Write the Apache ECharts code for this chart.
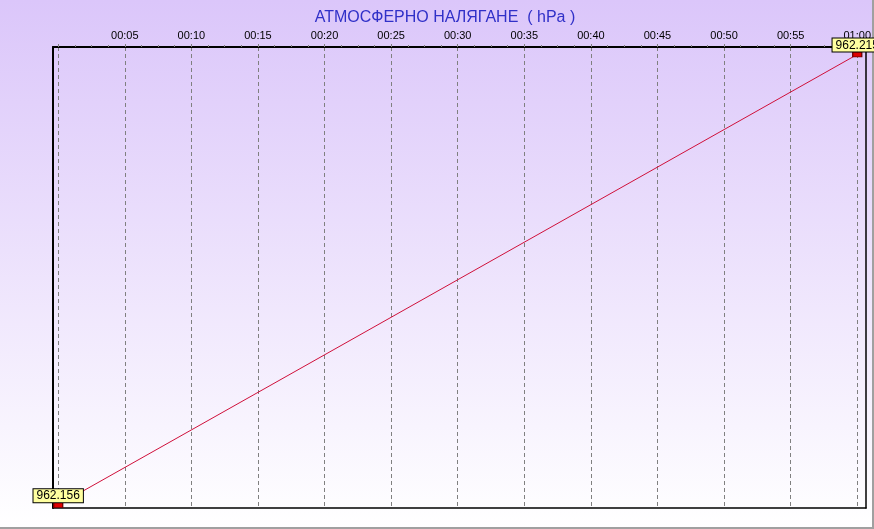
<!DOCTYPE html>
<html>
<head>
<meta charset="utf-8">
<script src="https://cdn.jsdelivr.net/npm/echarts@6/dist/echarts.min.js"></script>
<style>
html,body{margin:0;padding:0;background:#fff;}
#chart{width:874px;height:529px;}
</style>
</head>
<body>
<div id="chart"></div>
<script>
const titleText = 'АТМОСФЕРНО НАЛЯГАНЕ  ( hPa )';
const minutes = [0, 60];
const pressure = [962.156, 962.215];
const tickLabels = ['00:00','00:05','00:10','00:15','00:20','00:25','00:30','00:35','00:40','00:45','00:50','00:55','01:00'];

const chart = echarts.init(document.getElementById('chart'), null, {renderer: 'canvas'});
const font = 'Liberation Sans, Arial, sans-serif';

const frameAxis = (pos, w) => ({
  gridIndex: 1, type: 'value', position: pos, min: 0, max: 1,
  axisLine: {show: true, onZero: false, lineStyle: {color: '#000', width: w}},
  axisTick: {show: false}, axisLabel: {show: false}, splitLine: {show: false}
});

const option = {
  animation: false,
  backgroundColor: {
    type: 'linear', x: 0, y: 0, x2: 0, y2: 1,
    colorStops: [{offset: 0, color: '#dbc6fa'}, {offset: 1, color: '#ffffff'}]
  },
  title: {
    text: titleText,
    left: 440, top: 5, textAlign: 'center',
    textStyle: {fontFamily: font, fontSize: 16, fontWeight: 'normal', color: '#3030c8'}
  },
  grid: [
    {left: 58.2, right: 14, top: 47, bottom: 21},
    {left: 53, right: 8, top: 47, bottom: 21}
  ],
  xAxis: [
    {
      gridIndex: 0, type: 'value', position: 'top', min: 0, max: 60, interval: 5,
      axisLine: {show: false, onZero: false},
      axisTick: {show: true, length: 3, lineStyle: {color: '#808080'}},
      minorTick: {show: true, splitNumber: 4, length: 2, lineStyle: {color: '#808080'}},
      axisLabel: {
        show: true, showMinLabel: false, margin: 6,
        fontFamily: font, fontSize: 11, color: '#000',
        formatter: v => tickLabels[Math.round(v / 5)]
      },
      splitLine: {show: true, lineStyle: {color: '#808080', type: [4, 3], width: 1}}
    },
    frameAxis('top', 2),
    frameAxis('bottom', 1.5)
  ],
  yAxis: [
    {
      gridIndex: 0, type: 'value', min: 962.15561, max: 962.21598,
      axisLine: {show: false}, axisTick: {show: false}, axisLabel: {show: false}, splitLine: {show: false}
    },
    frameAxis('left', 2),
    frameAxis('right', 1.5)
  ],
  series: [
    {
      type: 'line', xAxisIndex: 0, yAxisIndex: 0, clip: false,
      data: minutes.map((m, i) => [m, pressure[i]]),
      lineStyle: {color: '#d0103a', width: 1},
      symbol: 'rect', symbolSize: [9, 5], showAllSymbol: true,
      itemStyle: {color: '#e00000', borderColor: '#700000', borderWidth: 1},
      label: {
        show: true, position: 'top', distance: 0,
        formatter: p => p.value[1].toFixed(3),
        fontFamily: font, fontSize: 12, color: '#000',
        backgroundColor: '#ffffa0', borderColor: '#000', borderWidth: 1,
        padding: [1, 3, 0, 3]
      },
      z: 5
    }
  ],
  graphic: [
    {type: 'rect', left: 0, top: 527, shape: {width: 874, height: 2}, style: {fill: '#a0a0a0'}, silent: true},
    {type: 'rect', left: 872, top: 0, shape: {width: 2, height: 529}, style: {fill: '#a0a0a0'}, silent: true}
  ]
};
chart.setOption(option);
</script>
</body>
</html>
